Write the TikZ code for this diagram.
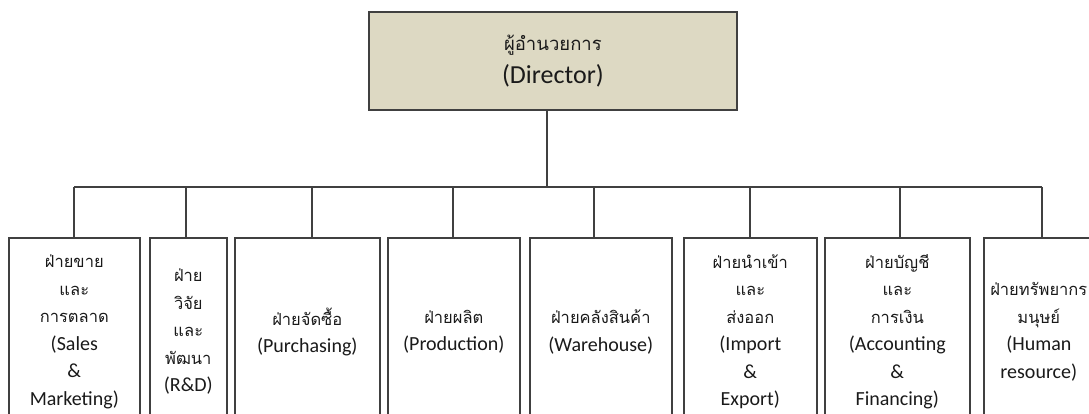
\documentclass[tikz,border=0pt]{standalone}
\usepackage{fontspec}
\setmainfont{Carlito}
\newfontfamily\thaifont[Script=Thai]{Loma}
\definecolor{boxline}{HTML}{404040}
\definecolor{dirfill}{HTML}{DDD9C3}
\definecolor{inkc}{HTML}{1A1A1A}
% Thai lines: department boxes and the director box
\newcommand\thl[1]{{\thaifont\fontsize{16.5}{27}\selectfont #1}}
\newcommand\thd[1]{{\thaifont\fontsize{18.5}{33}\selectfont #1}}
\begin{document}
\begin{tikzpicture}[x=1pt,y=-1pt,
  unitbox/.style={draw=boxline, line width=1.6pt, fill=white, anchor=north west,
    minimum height=188pt, inner sep=0pt, align=center, text=inkc,
    font=\fontsize{20}{27.5}\selectfont},
  dirbox/.style={draw=boxline, line width=1.8pt, fill=dirfill, anchor=north west,
    minimum width=368pt, minimum height=98pt, inner sep=0pt, align=center, text=inkc,
    font=\fontsize{26}{33}\selectfont},
  link/.style={draw=boxline, line width=1.2pt}]
\useasboundingbox (0,0) rectangle (1089,414);
\clip (0,0) rectangle (1089,414);

% director
\node[dirbox] (dir) at (368,11) {\thd{ผู้อำนวยการ}\\(Director)};

% department boxes
\node[unitbox, minimum width=131pt] (sales) at (8,237)
  {\thl{ฝ่ายขาย}\\\thl{และ}\\\thl{การตลาด}\\(Sales\\\&\\Marketing)};
\node[unitbox, minimum width=77pt] (rnd) at (149,237)
  {\thl{ฝ่าย}\\\thl{วิจัย}\\\thl{และ}\\\thl{พัฒนา}\\(R\&D)};
\node[unitbox, minimum width=145pt] (purch) at (234,237)
  {\thl{ฝ่ายจัดซื้อ}\\(Purchasing)};
\node[unitbox, minimum width=132pt] (prod) at (387,237)
  {\thl{ฝ่ายผลิต}\\(Production)};
\node[unitbox, minimum width=142pt] (ware) at (529,237)
  {\thl{ฝ่ายคลังสินค้า}\\(Warehouse)};
\node[unitbox, minimum width=133pt] (impx) at (683,237)
  {\thl{ฝ่ายนำเข้า}\\\thl{และ}\\\thl{ส่งออก}\\(Import\\\&\\Export)};
\node[unitbox, minimum width=145pt] (acct) at (824,237)
  {\thl{ฝ่ายบัญชี}\\\thl{และ}\\\thl{การเงิน}\\(Accounting\\\&\\Financing)};
\node[unitbox, minimum width=110pt] (hr) at (983,237)
  {\thl{ฝ่ายทรัพยากร}\\\thl{มนุษย์}\\(Human\\resource)};

% junctions on the bus
\coordinate (dj) at (547,187);
\coordinate (j1) at (74,187);
\coordinate (j2) at (186,187);
\coordinate (j3) at (312,187);
\coordinate (j4) at (453,187);
\coordinate (j5) at (594,187);
\coordinate (j6) at (750,187);
\coordinate (j7) at (900,187);
\coordinate (j8) at (1042,187);

% connectors
\draw[link] (dj |- dir.south) -- (dj);
\draw[link] (j1) -- (j8);
\draw[link] (j1) -- (j1 |- sales.north);
\draw[link] (j2) -- (j2 |- rnd.north);
\draw[link] (j3) -- (j3 |- purch.north);
\draw[link] (j4) -- (j4 |- prod.north);
\draw[link] (j5) -- (j5 |- ware.north);
\draw[link] (j6) -- (j6 |- impx.north);
\draw[link] (j7) -- (j7 |- acct.north);
\draw[link] (j8) -- (j8 |- hr.north);
\end{tikzpicture}
\end{document}
